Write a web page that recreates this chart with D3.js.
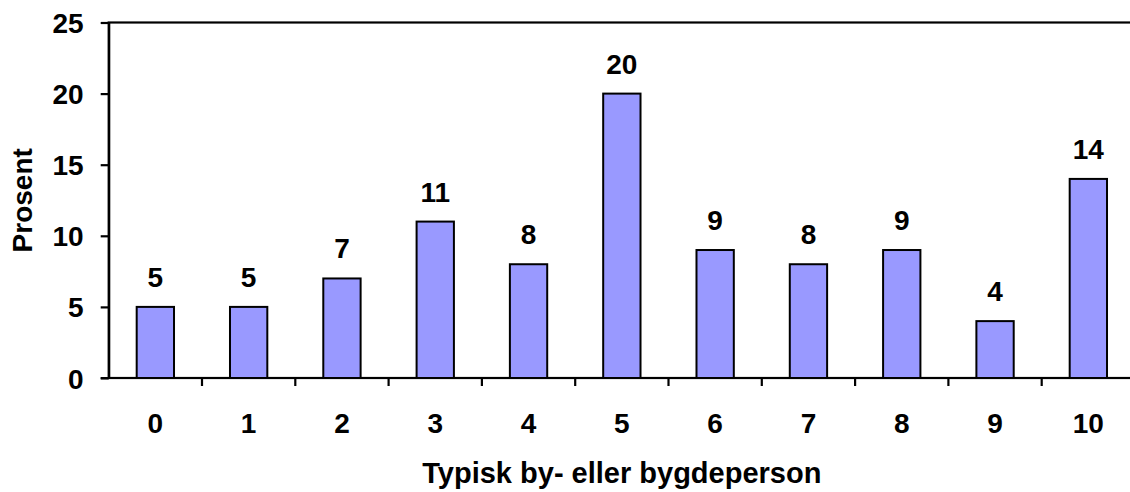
<!DOCTYPE html>
<html>
<head>
<meta charset="utf-8">
<script src="https://cdnjs.cloudflare.com/ajax/libs/d3/7.8.5/d3.min.js"></script>
<style>
  body { margin: 0; background: #fff; }
  text { font-family: "Liberation Sans", Arial, sans-serif; font-weight: bold; fill: #000; }
</style>
</head>
<body>
<script>
// data
var categories = ["0", "1", "2", "3", "4", "5", "6", "7", "8", "9", "10"];
var values = [5, 5, 7, 11, 8, 20, 9, 8, 9, 4, 14];
var yTicks = [0, 5, 10, 15, 20, 25];
var xTitle = "Typisk by- eller bygdeperson";
var yTitle = "Prosent";

var width = 1130,
    height = 492,
    plotLeft = 108.7,
    plotRight = 1135,   // plot runs a bit past the window edge
    plotTop = 22.5,
    plotBottom = 378,
    fontSize = "28px";

var svg = d3.select("body").append("svg")
    .attr("width", width)
    .attr("height", height);

var x = d3.scaleBand()
    .domain(categories)
    .range([plotLeft, plotRight])
    .paddingInner(0.6)
    .paddingOuter(0.3);

// boundaries between categories, for the x tick marks
var xEdge = d3.scaleLinear()
    .domain([0, categories.length])
    .range([plotLeft, plotRight]);

var y = d3.scaleLinear()
    .domain([0, 25])
    .range([plotBottom, plotTop]);

// frame around plot area
svg.append("rect")
    .attr("x", plotLeft)
    .attr("y", plotTop)
    .attr("width", plotRight - plotLeft)
    .attr("height", plotBottom - plotTop)
    .attr("fill", "none")
    .attr("stroke", "#000")
    .attr("stroke-width", 2.2);

// bars
svg.selectAll("rect.bar")
    .data(values)
    .enter().append("rect")
    .attr("class", "bar")
    .attr("x", function (d, i) { return x(categories[i]); })
    .attr("y", function (d) { return y(d); })
    .attr("width", x.bandwidth())
    .attr("height", function (d) { return y(0) - y(d); })
    .attr("fill", "#9999ff")
    .attr("stroke", "#000")
    .attr("stroke-width", 2);

// value labels
svg.selectAll("text.val")
    .data(values)
    .enter().append("text")
    .attr("class", "val")
    .attr("x", function (d, i) { return x(categories[i]) + x.bandwidth() / 2; })
    .attr("y", function (d) { return y(d) - 20; })
    .attr("text-anchor", "middle")
    .style("font-size", fontSize)
    .text(function (d) { return d; });

// y axis
var yAxis = svg.append("g")
    .attr("transform", "translate(" + plotLeft + ",0)")
    .call(d3.axisLeft(y).tickValues(yTicks).tickSize(8).tickPadding(17).tickSizeOuter(0));
yAxis.select(".domain").attr("stroke-width", 2.2);
yAxis.selectAll(".tick line").attr("stroke-width", 2.2);
yAxis.selectAll(".tick text")
    .style("font-size", fontSize)
    .style("font-family", "Liberation Sans, Arial, sans-serif")
    .attr("dy", "0.36em");

// x axis line and ticks
svg.append("line")
    .attr("x1", plotLeft - 8).attr("x2", plotRight)
    .attr("y1", plotBottom).attr("y2", plotBottom)
    .attr("stroke", "#000")
    .attr("stroke-width", 2.2);

svg.selectAll("line.xtick")
    .data(d3.range(1, categories.length))
    .enter().append("line")
    .attr("class", "xtick")
    .attr("x1", function (d) { return xEdge(d); })
    .attr("x2", function (d) { return xEdge(d); })
    .attr("y1", plotBottom)
    .attr("y2", plotBottom + 8)
    .attr("stroke", "#000")
    .attr("stroke-width", 2.2);

svg.selectAll("text.xlab")
    .data(categories)
    .enter().append("text")
    .attr("class", "xlab")
    .attr("x", function (d) { return x(d) + x.bandwidth() / 2; })
    .attr("y", 433)
    .attr("text-anchor", "middle")
    .style("font-size", fontSize)
    .text(function (d) { return d; });

// axis titles
svg.append("text")
    .attr("x", (plotLeft + plotRight) / 2)
    .attr("y", 483)
    .attr("text-anchor", "middle")
    .style("font-size", "29px")
    .text(xTitle);

svg.append("text")
    .attr("transform", "translate(32," + ((plotTop + plotBottom) / 2) + ") rotate(-90)")
    .attr("text-anchor", "middle")
    .style("font-size", fontSize)
    .text(yTitle);
</script>
</body>
</html>
